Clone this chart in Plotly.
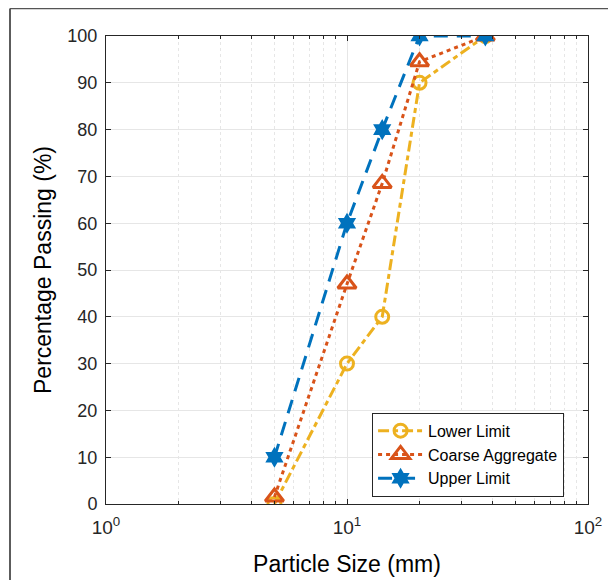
import plotly.graph_objects as go

sizes = [5, 10, 14, 20, 37.5]
lower_limit = [0, 30, 40, 90, 100]
coarse_agg = [1.5, 47, 68.5, 94.5, 100]
upper_limit = [10, 60, 80, 100, 100]

BLUE = "#0072BD"
ORANGE = "#D95319"
YELLOW = "#EDB120"

fig = go.Figure()
fig.add_trace(go.Scatter(
    x=sizes, y=lower_limit, name="Lower Limit", mode="lines+markers",
    line=dict(color=YELLOW, width=3, dash="11px,4px,5px,4px"),
    marker=dict(symbol="circle-open", size=13, color=YELLOW, line=dict(width=3, color=YELLOW)),
))
fig.add_trace(go.Scatter(
    x=sizes, y=coarse_agg, name="Coarse Aggregate", mode="lines+markers",
    line=dict(color=ORANGE, width=3, dash="4px,4px"),
    marker=dict(symbol="triangle-up-open", size=16, color=ORANGE, line=dict(width=3, color=ORANGE)),
))
fig.add_trace(go.Scatter(
    x=sizes, y=upper_limit, name="Upper Limit", mode="lines+markers",
    line=dict(color=BLUE, width=3, dash="14px,9px"),
    marker=dict(symbol="hexagram", size=16, color=BLUE, line=dict(width=0)),
))

font = "Liberation Sans, Arial, sans-serif"

# page has an 8px body margin; plot area sits at page px x 106..588, y 36..504
fig.update_layout(
    width=608, height=572,
    margin=dict(l=98, r=28, t=28, b=76),
    paper_bgcolor="white", plot_bgcolor="white",
    font=dict(family=font, size=16, color="#262626"),
    showlegend=True,
    legend=dict(
        x=0.552, y=0.195, xanchor="left", yanchor="top",
        bgcolor="white", bordercolor="#262626", borderwidth=1,
        font=dict(size=16, color="#000000"),
        tracegroupgap=0, itemwidth=45,
    ),
    xaxis=dict(
        type="log", range=[0, 2], automargin=False,
        tickvals=[1, 10, 100],
        ticktext=["10<sup>0</sup>", "10<sup>1</sup>", "10<sup>2</sup>"],
        ticks="inside", ticklen=5, tickcolor="#262626",
        ticklabelstandoff=6,
        showline=True, linecolor="#262626", linewidth=1, mirror="ticks",
        showgrid=True, gridcolor="#e6e6e6", gridwidth=1,
        minor=dict(tickvals=[2, 3, 4, 5, 6, 7, 8, 9, 20, 30, 40, 50, 60, 70, 80, 90],
                   ticks="inside", ticklen=3, tickcolor="#262626",
                   showgrid=True, gridcolor="#e6e6e6", griddash="dot"),
        title=dict(text="Particle Size (mm)", font=dict(size=23, color="#000000"), standoff=19),
        tickfont=dict(size=19),
        zeroline=False,
    ),
    yaxis=dict(
        range=[0, 100], tickvals=list(range(0, 101, 10)), automargin=False,
        ticks="inside", ticklen=5, tickcolor="#262626",
        ticklabelstandoff=4,
        showline=True, linecolor="#262626", linewidth=1, mirror="ticks",
        showgrid=True, gridcolor="#e6e6e6", gridwidth=1,
        title=dict(text="Percentage Passing (%)", font=dict(size=23, color="#000000"), standoff=9),
        tickfont=dict(size=18),
        zeroline=False,
    ),
)

# outer figure frame (left and top edges)
fig.add_shape(type="line", xref="paper", yref="paper",
              x0=(10 - 106) / 482, x1=(10 - 106) / 482, y0=(504 - 8.5) / 468, y1=(504 - 600) / 468,
              line=dict(color="#262626", width=1.5))
fig.add_shape(type="line", xref="paper", yref="paper",
              x0=(10 - 106) / 482, x1=(640 - 106) / 482, y0=(504 - 8.5) / 468, y1=(504 - 8.5) / 468,
              line=dict(color="#555555", width=1.5))

fig.write_html("out.html")
